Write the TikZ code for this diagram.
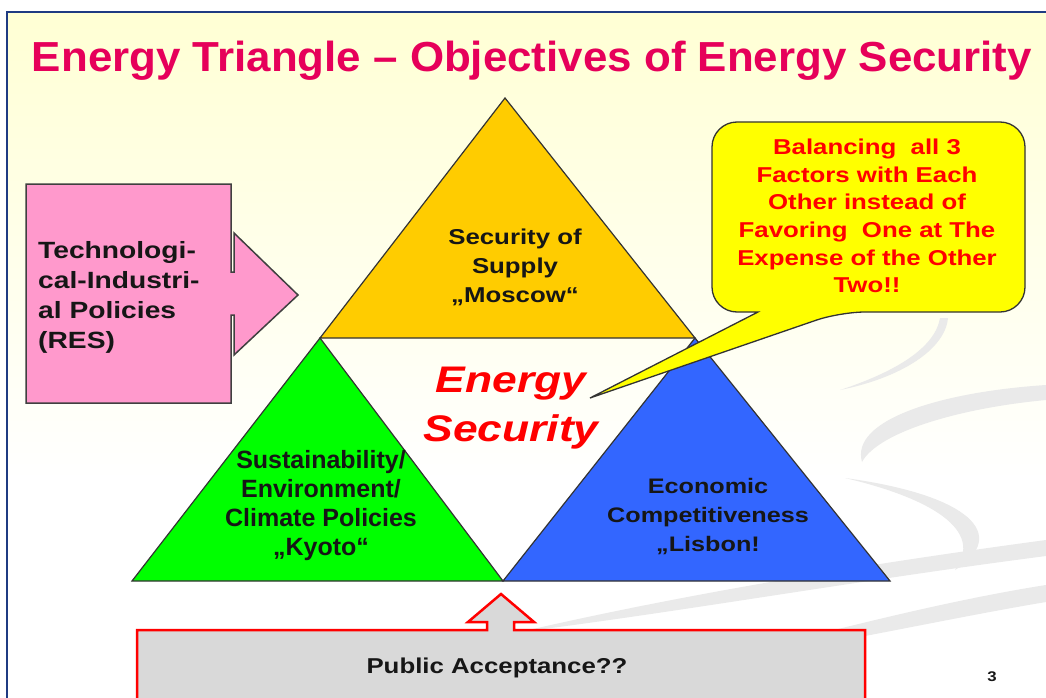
\documentclass[tikz,border=0pt]{standalone}
\usepackage{fontspec}
\setmainfont{Liberation Sans}
\newfontfamily\wf{Liberation Sans}[FakeStretch=1.2]
\newfontfamily\tf{Liberation Sans}[FakeStretch=1.045]
\definecolor{bgy}{RGB}{255,255,212}
\definecolor{navy}{RGB}{31,59,130}
\definecolor{titlec}{RGB}{230,0,90}
\definecolor{ytri}{RGB}{255,204,0}
\definecolor{gtri}{RGB}{0,255,0}
\definecolor{btri}{RGB}{51,102,255}
\definecolor{pinkc}{RGB}{255,153,204}
\definecolor{callc}{RGB}{255,255,0}
\definecolor{redc}{RGB}{255,0,0}
\definecolor{darkt}{RGB}{22,22,22}
\definecolor{greyc}{RGB}{217,217,217}
\definecolor{swc}{RGB}{234,234,234}
\begin{document}
\begin{tikzpicture}[x=1pt,y=-1pt,
  tri/.style={draw=black!80, line width=1.2pt, line join=miter},
  swoosh/.style={fill=swc},
  lbl/.style={text=darkt, align=center, inner sep=0pt},
]
\useasboundingbox (0,0) rectangle (1046,698);
\clip (0,0) rectangle (1046,698);
\fill[white] (0,0) rectangle (1046,698);
\shade[top color=bgy, bottom color=white] (7,12) rectangle (1046,480);
% decorative swooshes
\fill[swoosh] (520,632) .. controls (680,595) and (860,565) .. (1046,540) -- (1046,556) .. controls (860,580) and (680,612) .. (520,632) -- cycle;
\fill[swoosh] (700,665) .. controls (830,630) and (950,600) .. (1046,585) -- (1046,602) .. controls (950,618) and (830,645) .. (700,665) -- cycle;
\fill[swoosh] (1046,385) .. controls (940,392) and (850,420) .. (862,462) .. controls (878,432) and (960,408) .. (1046,400) -- cycle;
\fill[swoosh] (845,478) .. controls (970,495) and (1010,535) .. (955,570) .. controls (985,530) and (930,498) .. (845,478) -- cycle;
\fill[swoosh] (948,318) .. controls (945,350) and (900,378) .. (840,390) .. controls (895,372) and (935,348) .. (940,318) -- cycle;
% frame
\draw[navy, line width=2pt] (1046,12) -- (7,12) -- (7,698);
% title
\node[anchor=base, text=titlec, inner sep=0pt, font=\tf\bfseries\fontsize{42}{46}\selectfont] (title) at (532,72) {Energy Triangle – Objectives of Energy Security};
% triangles
\coordinate (yT) at (505,98);
\coordinate (yL) at (320,338);
\coordinate (yR) at (695,338);
\coordinate (gL) at (132,581);
\coordinate (gR) at (503,581);
\coordinate (bR) at (890,581);
\draw[tri, fill=ytri] (yT) -- (yR) -- (yL) -- cycle;
\draw[tri, fill=gtri] (yL) -- (gR) -- (gL) -- cycle;
\draw[tri, fill=btri] (yR) -- (bR) -- (gR) -- cycle;
\node[lbl, anchor=north, font=\wf\bfseries\fontsize{21.5}{29}\selectfont] (supply) at (515,229) {Security of\\Supply\\„Moscow“};
\node[lbl, anchor=north, font=\bfseries\fontsize{25}{29}\selectfont] (sust) at (321,450) {Sustainability/\\Environment/\\Climate Policies\\„Kyoto“};
\node[lbl, anchor=north, font=\wf\bfseries\fontsize{21}{29}\selectfont] (econ) at (708,478) {Economic\\Competitiveness\\„Lisbon!};
\node[lbl, text=redc, anchor=north, font=\wf\bfseries\itshape\fontsize{37}{49}\selectfont] (es) at (511,367) {Energy\\Security};
% callout
\coordinate (tip) at (590,398);
\draw[draw=black!80, line width=1.3pt, fill=callc] (712,200) [rounded corners=25pt] -- (712,122) -- (1025,122) -- (1025,312) -- (840,312) [sharp corners] -- (tip) -- (758,312) [rounded corners=25pt] -- (712,312) -- (712,200) -- cycle;
\node[lbl, text=redc, anchor=north, font=\wf\bfseries\fontsize{21.5}{27.6}\selectfont] (bal) at (867,139) {Balancing~ all 3\\Factors with Each\\Other instead of\\Favoring~ One at The\\Expense of the Other\\Two!!};
% pink arrow box
\draw[draw=black!75, line width=1.5pt, fill=pinkc, line join=miter] (26,184) -- (231,184) -- (231,272) -- (234,272) -- (234,233) -- (298,295) -- (234,355) -- (234,315) -- (231,315) -- (231,403) -- (26,403) -- cycle;
\node[lbl, anchor=north west, align=left, font=\wf\bfseries\fontsize{23.5}{30}\selectfont] (tech) at (38,241) {Technologi-\\cal-Industri-\\al Policies\\(RES)};
% public acceptance
\draw[draw=redc, line width=2.5pt, fill=greyc, line join=miter] (137,630) -- (487,630) -- (487,622) -- (468,622) -- (501,594) -- (534,622) -- (514,622) -- (514,630) -- (865,630) -- (865,705) -- (137,705) -- cycle;
\node[lbl, anchor=base, font=\wf\bfseries\fontsize{21.5}{26}\selectfont] (pub) at (497,673) {Public Acceptance??};
\node[lbl, anchor=base, font=\wf\bfseries\fontsize{14}{16}\selectfont] (pg) at (992,681) {3};
\end{tikzpicture}
\end{document}
